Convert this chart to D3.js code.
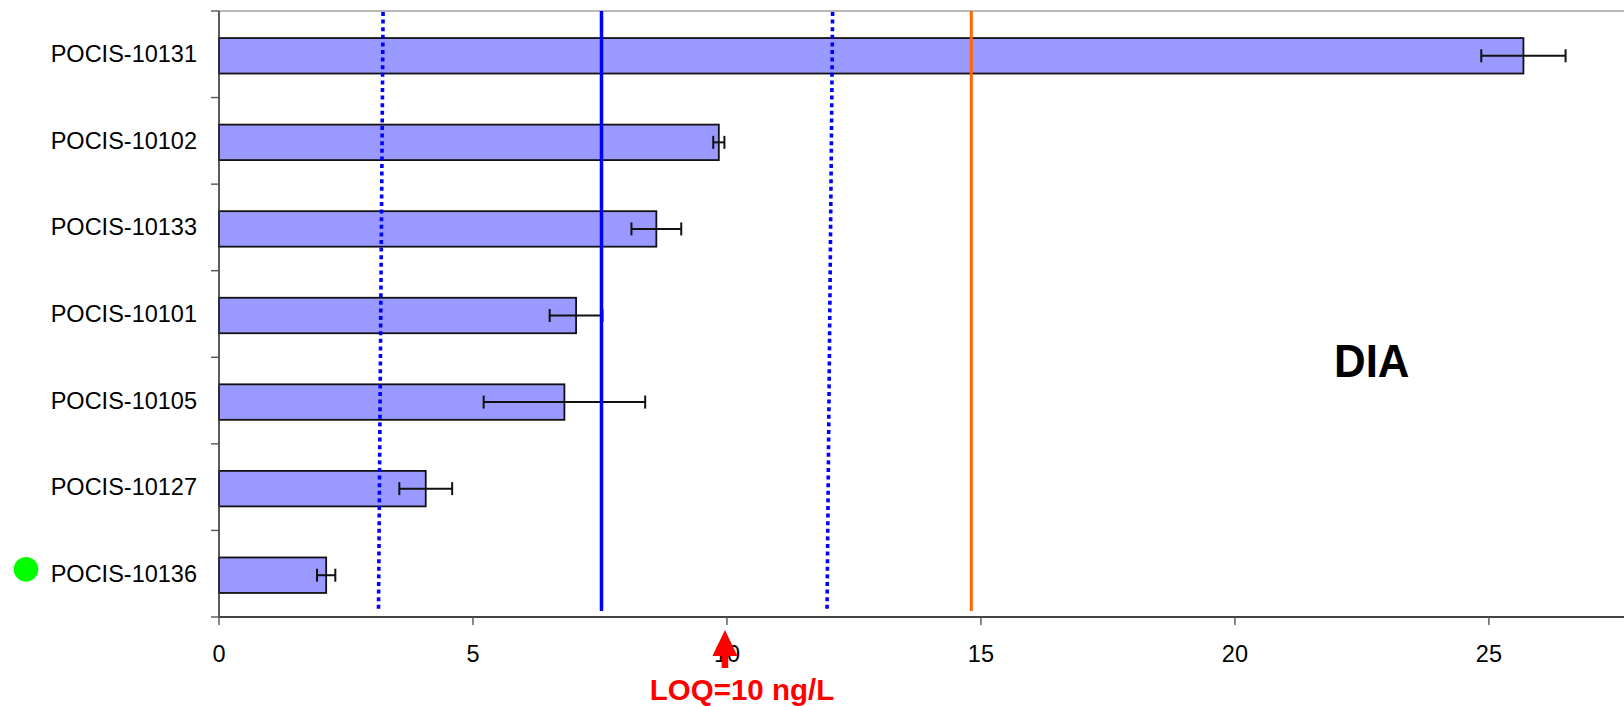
<!DOCTYPE html>
<html>
<head>
<meta charset="utf-8">
<script src="https://cdn.jsdelivr.net/npm/d3@7"></script>
<style>
  html, body { margin: 0; padding: 0; background: #fff; }
  svg { display: block; }
</style>
</head>
<body>
<script>
// Sampler sites, top to bottom
const sites = ["POCIS-10131", "POCIS-10102", "POCIS-10133", "POCIS-10101", "POCIS-10105", "POCIS-10127", "POCIS-10136"];
// Mean DIA concentration (ng/L) and its standard deviation
const means = [25.68, 9.84, 8.61, 7.03, 6.80, 4.07, 2.11];
const errors = [0.83, 0.11, 0.49, 0.52, 1.59, 0.52, 0.18];
// Reference lines: mean of all sites, and upper threshold
const meanLine = 7.53;
const thresholdLine = 14.81;
// Spread lines, drawn from their value at the top of the plot to their value at the bottom
const spreadTop = [3.23, 12.08];
const spreadBottom = [3.14, 11.97];
// Limit of quantification
const loq = 10;
const xTicks = [0, 5, 10, 15, 20, 25];
const flaggedSites = ["POCIS-10136"];

const W = 1624, H = 706;
const plotLeft = 219, plotTop = 11, plotBottom = 617, plotRight = 1624;

const svg = d3.select("body").append("svg").attr("width", W).attr("height", H);

const x = d3.scaleLinear().domain([0, 27.66]).range([plotLeft, plotRight]);
const y = d3.scaleBand().domain(sites).range([plotTop + 1.5, plotBottom + 1.5])
  .paddingInner(0.59).paddingOuter(0.295);
const step = (plotBottom - plotTop) / sites.length;

// Top frame line
svg.append("line").attr("x1", plotLeft).attr("x2", plotRight).attr("y1", plotTop).attr("y2", plotTop)
  .attr("stroke", "#a0a0a0").attr("stroke-width", 1.6);

// Bars
svg.append("g").selectAll("rect").data(sites).join("rect")
  .attr("x", x(0))
  .attr("y", d => y(d))
  .attr("width", (d, i) => x(means[i]) - x(0))
  .attr("height", y.bandwidth())
  .attr("fill", "#9999ff")
  .attr("stroke", "#111")
  .attr("stroke-width", 1.8);

// Error bars
const eb = svg.append("g").attr("stroke", "#111").attr("stroke-width", 2);
sites.forEach((s, i) => {
  const cy = y(s) + y.bandwidth() / 2;
  const lo = x(means[i] - errors[i]), hi = x(means[i] + errors[i]);
  eb.append("line").attr("x1", lo).attr("x2", hi).attr("y1", cy).attr("y2", cy);
  [lo, hi].forEach(px => eb.append("line").attr("x1", px).attr("x2", px)
    .attr("y1", cy - 6.5).attr("y2", cy + 6.5));
});

// Reference lines
const lineBottom = 611;
spreadTop.forEach((v, i) => svg.append("line")
  .attr("x1", x(v)).attr("x2", x(spreadBottom[i])).attr("y1", plotTop + 1).attr("y2", lineBottom)
  .attr("stroke", "#0000ff").attr("stroke-width", 3.6).attr("stroke-dasharray", "4,3.6"));
svg.append("line").attr("x1", x(meanLine)).attr("x2", x(meanLine))
  .attr("y1", plotTop).attr("y2", lineBottom)
  .attr("stroke", "#0000ff").attr("stroke-width", 3.5);
svg.append("line").attr("x1", x(thresholdLine)).attr("x2", x(thresholdLine))
  .attr("y1", plotTop).attr("y2", lineBottom)
  .attr("stroke", "#ff6600").attr("stroke-width", 3);

// Y axis
const yAxis = svg.append("g");
yAxis.append("line").attr("x1", plotLeft).attr("x2", plotLeft).attr("y1", plotTop).attr("y2", plotBottom)
  .attr("stroke", "#333").attr("stroke-width", 1.6);
d3.range(sites.length + 1).forEach(i => yAxis.append("line")
  .attr("x1", plotLeft - 8).attr("x2", plotLeft)
  .attr("y1", plotTop + i * step).attr("y2", plotTop + i * step)
  .attr("stroke", "#555").attr("stroke-width", 1.4));
yAxis.selectAll("text").data(sites).join("text")
  .attr("x", 197)
  .attr("y", d => y(d) + y.bandwidth() / 2 - 1.5)
  .attr("text-anchor", "end")
  .attr("dominant-baseline", "central")
  .attr("font-family", "Liberation Sans, Arial, sans-serif")
  .attr("font-size", 23.5)
  .attr("fill", "#000")
  .text(d => d);

// Marker for flagged sites
svg.append("g").selectAll("circle").data(flaggedSites).join("circle")
  .attr("cx", 26)
  .attr("cy", d => y(d) + y.bandwidth() / 2 - 6)
  .attr("r", 12.3)
  .attr("fill", "#00ff00");

// X axis
const xAxis = svg.append("g");
xAxis.append("line").attr("x1", plotLeft).attr("x2", plotRight).attr("y1", plotBottom).attr("y2", plotBottom)
  .attr("stroke", "#444").attr("stroke-width", 2.2);
xAxis.selectAll("line.tick").data(xTicks).join("line").attr("class", "tick")
  .attr("x1", d => x(d)).attr("x2", d => x(d)).attr("y1", plotBottom).attr("y2", plotBottom + 8)
  .attr("stroke", "#555").attr("stroke-width", 1.4);
xAxis.selectAll("text").data(xTicks).join("text")
  .attr("x", d => x(d))
  .attr("y", 662)
  .attr("text-anchor", "middle")
  .attr("font-family", "Liberation Sans, Arial, sans-serif")
  .attr("font-size", 23.5)
  .attr("fill", "#000")
  .text(d => d);

// LOQ arrow and label
const ax = x(loq) - 2;
svg.append("rect").attr("x", ax - 3.3).attr("y", 652).attr("width", 6.6).attr("height", 16)
  .attr("fill", "#ff0000");
svg.append("path")
  .attr("d", `M${ax},630 L${ax + 12.5},656 L${ax - 12.5},656 Z`)
  .attr("fill", "#ff0000");
svg.append("text")
  .attr("x", 742).attr("y", 700)
  .attr("text-anchor", "middle")
  .attr("font-family", "Liberation Sans, Arial, sans-serif")
  .attr("font-weight", "bold")
  .attr("font-size", 29.5)
  .attr("fill", "#ff0000")
  .text(`LOQ=${loq} ng/L`);

// Compound label
svg.append("text")
  .attr("x", 1334).attr("y", 377)
  .attr("font-family", "Liberation Sans, Arial, sans-serif")
  .attr("font-weight", "bold")
  .attr("font-size", 47)
  .attr("textLength", 75.5)
  .attr("lengthAdjust", "spacingAndGlyphs")
  .attr("fill", "#000")
  .text("DIA");
</script>
</body>
</html>
